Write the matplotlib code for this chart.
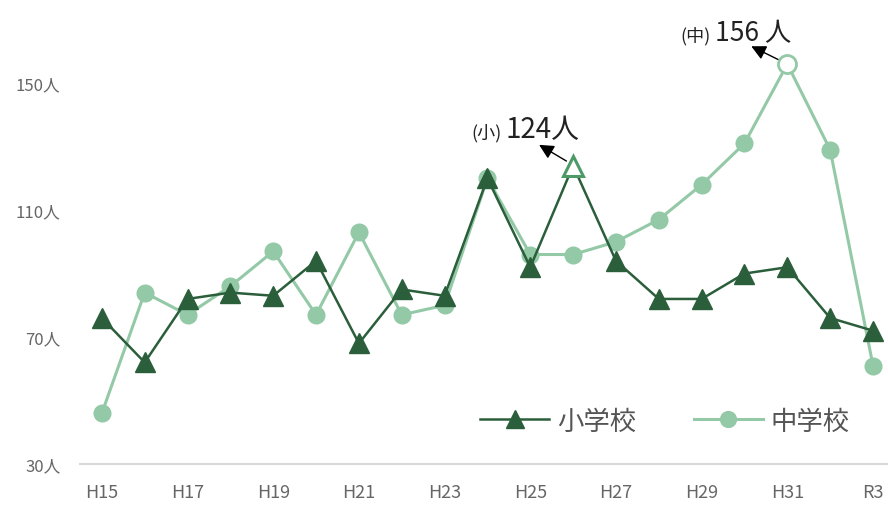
import matplotlib
matplotlib.use("Agg")
import matplotlib.pyplot as plt

plt.rcParams['font.family'] = ['Noto Sans CJK JP', 'DejaVu Sans']

years = ["H15", "H16", "H17", "H18", "H19", "H20", "H21", "H22", "H23", "H24",
         "H25", "H26", "H27", "H28", "H29", "H30", "H31", "R2", "R3"]
elementary = [76, 62, 82, 84, 83, 94, 68, 85, 83, 120,
              92, 124, 94, 82, 82, 90, 92, 76, 72]
junior = [46, 84, 77, 86, 97, 77, 103, 77, 80, 120,
          96, 96, 100, 107, 118, 131, 156, 129, 61]
y_ticks = [30, 70, 110, 150]

dark = "#2b5e3b"
light = "#93c9a6"
mid = "#4e9a66"

fig = plt.figure(figsize=(8.88, 5.06), dpi=100)
ax = fig.add_axes([80 / 888, 41 / 506, 808 / 888, 465 / 506])

x = list(range(len(years)))
ax.plot(x, junior, color=light, lw=2.2, marker="o", ms=12, zorder=2, label="中学校")
ax.plot(x, elementary, color=dark, lw=1.8, marker="^", ms=14, zorder=3, label="小学校")

# highlighted points
i_e = elementary.index(max(elementary))
i_j = junior.index(max(junior))
ax.plot(i_e, elementary[i_e], marker="^", ms=14, mfc="white", mec=mid, mew=2.2, zorder=4)
ax.plot(i_j, junior[i_j], marker="o", ms=13, mfc="white", mec=light, mew=2, zorder=4)

ax.annotate("", xy=(i_e - 0.85, elementary[i_e] + 7), xytext=(i_e - 0.1, elementary[i_e] + 1),
            arrowprops=dict(arrowstyle="-|>", color="black", lw=1, mutation_scale=22))
ax.text(i_e - 1.68, elementary[i_e] + 9, "(小)", ha="right", va="baseline",
        fontsize=13, color="#222222")
ax.text(i_e - 1.58, elementary[i_e] + 9, str(elementary[i_e]) + "人", ha="left",
        va="baseline", fontsize=20, color="#222222")
ax.annotate("", xy=(i_j - 0.9, junior[i_j] + 6), xytext=(i_j - 0.15, junior[i_j] + 1),
            arrowprops=dict(arrowstyle="-|>", color="black", lw=1, mutation_scale=22))
ax.text(i_j - 1.79, junior[i_j] + 7.5, "(中)", ha="right", va="baseline",
        fontsize=13, color="#222222")
ax.text(i_j - 1.69, junior[i_j] + 7.5, str(junior[i_j]) + " 人", ha="left",
        va="baseline", fontsize=19, color="#222222")

ax.set_xlim(-0.51, 18.35)
ax.set_ylim(30, 176.5)
ax.set_yticks(y_ticks)
ax.set_yticklabels([str(v) + "人" for v in y_ticks], fontsize=12, color="#666666")
ax.set_xticks(x[::2])
ax.set_xticklabels(years[::2], fontsize=13, color="#666666")
ax.tick_params(axis="x", length=0, pad=14)
ax.tick_params(axis="y", length=0, pad=14)
for s in ["top", "right", "left"]:
    ax.spines[s].set_visible(False)
ax.spines["bottom"].set_color("#d9d9d9")
ax.spines["bottom"].set_linewidth(1.5)

handles, labels = ax.get_legend_handles_labels()
leg = ax.legend(handles[::-1], labels[::-1], loc="center", bbox_to_anchor=(0.724, 0.092),
                ncol=2, frameon=False, fontsize=19, handlelength=2.6, columnspacing=2.2,
                handletextpad=0.3, markerscale=0.95)
for t in leg.get_texts():
    t.set_color("#555555")

fig.savefig("out.png", dpi=100)
